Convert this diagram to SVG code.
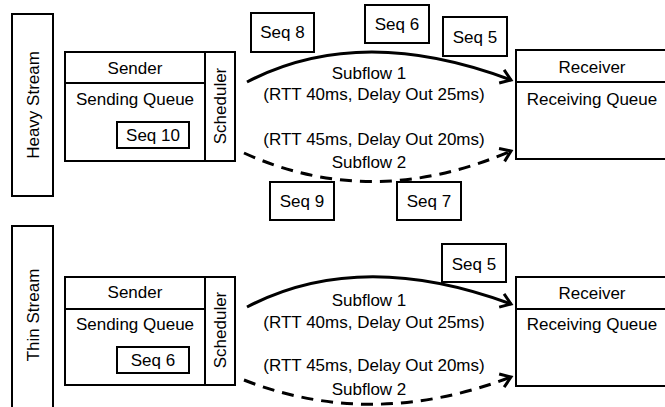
<svg xmlns="http://www.w3.org/2000/svg" width="665" height="407" viewBox="0 0 665 407">
  <defs>
    <style>
      text { font-family: "Liberation Sans", Arial, sans-serif; font-size: 17px; fill: #000; }
      .mid { text-anchor: middle; }
      .box { fill: #fff; stroke: #000; stroke-width: 2; }
      .rule { stroke: #000; stroke-width: 2; }
      .flow { fill: none; stroke: #000; stroke-width: 3; marker-end: url(#arrow); }
      .dash { stroke-dasharray: 12 8; }
    </style>
    <marker id="arrow" markerUnits="userSpaceOnUse" viewBox="-14 -12 18 24" markerWidth="18" markerHeight="24" refX="0" refY="0" orient="auto">
      <path d="M-10,-7 L0,0 L-10,7" fill="none" stroke="#000" stroke-width="3" stroke-dasharray="none"/>
    </marker>
  </defs>

  <!-- subflow connectors with their labels -->
  <g id="connectors">
    <path class="flow" d="M247,82 Q360,23 511,80"/>
    <path class="flow dash" d="M244,153 Q372,211 511,151"/>
    <text class="mid" x="369" y="79">Subflow 1</text>
    <text class="mid" x="374" y="100">(RTT 40ms, Delay Out 25ms)</text>
    <text class="mid" x="374" y="145">(RTT 45ms, Delay Out 20ms)</text>
    <text class="mid" x="369" y="168">Subflow 2</text>

    <path class="flow" d="M247,307 Q360,248 511,304"/>
    <path class="flow dash" d="M244,380 Q372,430 511,377"/>
    <text class="mid" x="369" y="306">Subflow 1</text>
    <text class="mid" x="374" y="328">(RTT 40ms, Delay Out 25ms)</text>
    <text class="mid" x="374" y="371">(RTT 45ms, Delay Out 20ms)</text>
    <text class="mid" x="369" y="395">Subflow 2</text>
  </g>

  <!-- heavy stream -->
  <g id="heavy-stream">
    <rect class="box" x="12" y="14" width="41" height="182"/>
    <text class="mid" transform="translate(39,105) rotate(-90)">Heavy Stream</text>
  </g>
  <g id="heavy-sender">
    <rect class="box" x="65" y="52" width="140" height="109"/>
    <line class="rule" x1="65" y1="83" x2="205" y2="83"/>
    <text class="mid" x="135" y="74">Sender</text>
    <text class="mid" x="135" y="105">Sending Queue</text>
  </g>
  <g id="heavy-seq10">
    <rect class="box" x="117" y="122" width="72" height="26"/>
    <text class="mid" x="153" y="141">Seq 10</text>
  </g>
  <g id="heavy-scheduler">
    <rect class="box" x="205" y="52" width="30" height="109"/>
    <text class="mid" transform="translate(226,106) rotate(-90)">Scheduler</text>
  </g>
  <g id="heavy-receiver">
    <rect class="box" x="516" y="50" width="152" height="109"/>
    <line class="rule" x1="516" y1="82" x2="668" y2="82"/>
    <text class="mid" x="592" y="73">Receiver</text>
    <text class="mid" x="592" y="105">Receiving Queue</text>
  </g>
  <g id="heavy-seq8">
    <rect class="box" x="251" y="13" width="63" height="39"/>
    <text class="mid" x="282.5" y="38">Seq 8</text>
  </g>
  <g id="heavy-seq6">
    <rect class="box" x="365" y="5" width="64" height="38"/>
    <text class="mid" x="397" y="30">Seq 6</text>
  </g>
  <g id="heavy-seq5">
    <rect class="box" x="443" y="17" width="64" height="39"/>
    <text class="mid" x="475" y="43">Seq 5</text>
  </g>
  <g id="heavy-seq9">
    <rect class="box" x="270" y="182" width="64" height="38"/>
    <text class="mid" x="302" y="207">Seq 9</text>
  </g>
  <g id="heavy-seq7">
    <rect class="box" x="397" y="182" width="64" height="38"/>
    <text class="mid" x="429" y="207">Seq 7</text>
  </g>

  <!-- thin stream -->
  <g id="thin-stream">
    <rect class="box" x="12" y="226" width="41" height="200"/>
    <text class="mid" transform="translate(39,315) rotate(-90)">Thin Stream</text>
  </g>
  <g id="thin-sender">
    <rect class="box" x="65" y="277" width="140" height="108"/>
    <line class="rule" x1="65" y1="309" x2="205" y2="309"/>
    <text class="mid" x="135" y="298">Sender</text>
    <text class="mid" x="135" y="330">Sending Queue</text>
  </g>
  <g id="thin-seq6">
    <rect class="box" x="117" y="347" width="72" height="26"/>
    <text class="mid" x="153" y="366">Seq 6</text>
  </g>
  <g id="thin-scheduler">
    <rect class="box" x="205" y="277" width="30" height="108"/>
    <text class="mid" transform="translate(226,330) rotate(-90)">Scheduler</text>
  </g>
  <g id="thin-receiver">
    <rect class="box" x="516" y="277" width="152" height="109"/>
    <line class="rule" x1="516" y1="309" x2="668" y2="309"/>
    <text class="mid" x="592" y="299">Receiver</text>
    <text class="mid" x="592" y="330">Receiving Queue</text>
  </g>
  <g id="thin-seq5">
    <rect class="box" x="442" y="244" width="64" height="38"/>
    <text class="mid" x="474" y="270">Seq 5</text>
  </g>
</svg>
